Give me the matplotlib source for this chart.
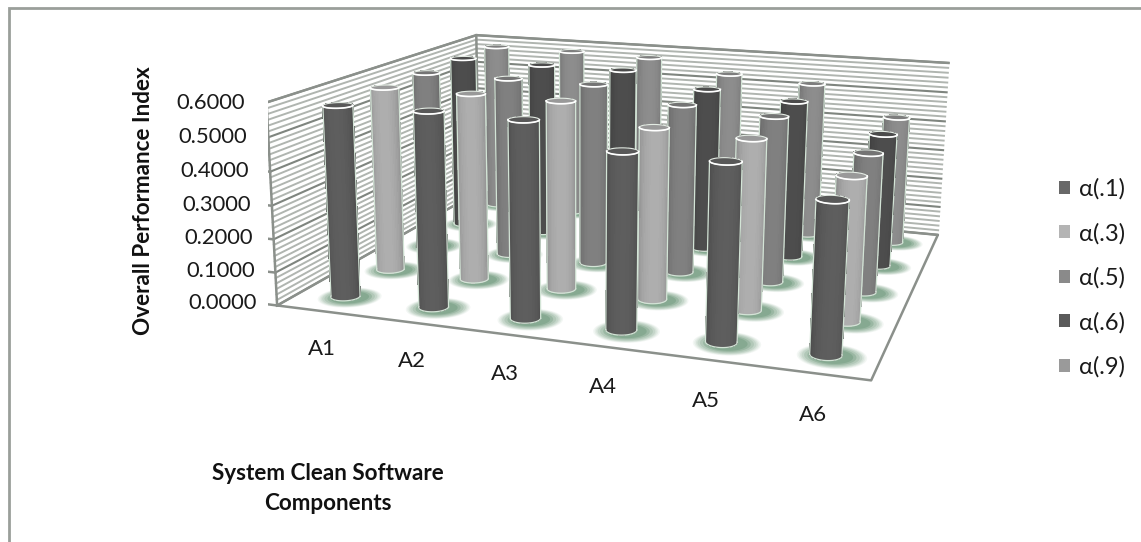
import numpy as np
import matplotlib
matplotlib.use('Agg')
import matplotlib.pyplot as plt
from matplotlib.patches import Patch, Rectangle
from mpl_toolkits.mplot3d import art3d, proj3d

plt.rcParams['font.family'] = ['Lato', 'DejaVu Sans']

WIDTH, HEIGHT = 1141, 542

components = ['A1', 'A2', 'A3', 'A4', 'A5', 'A6']
series_names = ['α(.1)', 'α(.3)', 'α(.5)', 'α(.6)', 'α(.9)']

# overall performance index, one list per alpha
alpha_1 = [0.576, 0.580, 0.576, 0.510, 0.506, 0.428]
alpha_3 = [0.580, 0.580, 0.578, 0.520, 0.510, 0.426]
alpha_5 = [0.580, 0.580, 0.580, 0.535, 0.520, 0.430]
alpha_6 = [0.585, 0.580, 0.580, 0.535, 0.515, 0.430]
alpha_9 = [0.585, 0.585, 0.580, 0.540, 0.525, 0.430]
all_series = [alpha_1, alpha_3, alpha_5, alpha_6, alpha_9]

z_ticks = [0.0, 0.1, 0.2, 0.3, 0.4, 0.5, 0.6]

body_colors = ['#5c5c5c', '#ababab', '#7e7e7e', '#4c4c4c', '#8a8a8a']
legend_colors = ['#686868', '#b4b4b4', '#8a8a8a', '#5a5a5a', '#9a9a9a']

ELEV, AZIM, ROLL = 13.7559, -71.9437, -0.5729
FOCAL = 0.3719
BOX = (1, 0.8212, 0.3471)
SIDE, CX, CY = 718.06, 627.14, 185.22
RADIUS = 0.025

fig = plt.figure(figsize=(WIDTH/100, HEIGHT/100), dpi=100)
ax = fig.add_subplot(projection='3d', computed_zorder=False)
ax.set_position([(CX-SIDE/2)/WIDTH, 1-(CY+SIDE/2)/HEIGHT, SIDE/WIDTH, SIDE/HEIGHT])
ax.view_init(ELEV, AZIM, ROLL)
ax.set_proj_type('persp', focal_length=FOCAL)
ax.set_box_aspect(BOX)
ax.set_axis_off()

nx, ny = len(components), len(series_names)
zmax = z_ticks[-1]
ax.set_xlim(0, nx)
ax.set_ylim(0, ny)
ax.set_zlim(0, zmax)

def flat_label(x, y, z, s, **kw):
    # label placed at a 3D point but kept as plain 2D text
    px, py, _ = proj3d.proj_transform(x, y, z, ax.get_proj())
    ax.text2D(px, py, s, transform=ax.transData, ha='center', va='center', color='#1a1a1a', **kw)

grey = '#8b908b'
# striped walls, every sixth stripe is a major gridline
for k, z in enumerate(np.arange(0, 37) * zmax / 36):
    major = k % 6 == 0
    col = '#7f857f' if major else '#b0b5b0'
    lw = 1.5 if major else 1.4
    ax.plot([0, 0], [0, ny], [z, z], color=col, lw=lw, zorder=1)
    ax.plot([0, nx], [ny, ny], [z, z], color=col, lw=lw, zorder=1)

# frame edges
for xs, ys, zs in [([0, nx, nx, 0, 0], [0, 0, ny, ny, 0], [0, 0, 0, 0, 0]),
                   ([0, 0], [0, 0], [0, zmax]),
                   ([0, 0, nx], [0, ny, ny], [zmax, zmax, zmax]),
                   ([0, 0], [ny, ny], [0, zmax])]:
    ax.plot(xs, ys, zs, color=grey, lw=1.8, zorder=2)

# tick marks and value labels
for z in z_ticks:
    ax.plot([0, -0.13], [0, 0], [z, z], color=grey, lw=1.8, zorder=2)
    flat_label(-0.64, 0, z - 0.014, '%.4f' % z, fontsize=15.8)

for i, name in enumerate(components):
    flat_label(1.05 + 0.924*i, -0.95, 0, name, fontsize=16)

view = np.deg2rad(AZIM)
angles = np.linspace(0, 2*np.pi, 49)
rx = RADIUS * nx / BOX[0]
ry = RADIUS * ny / BOX[1]

# soft green pools under each cylinder
pool_rings = [(2.15, 0.08), (2.05, 0.10), (1.95, 0.12), (1.85, 0.16), (1.7, 0.22), (1.5, 0.35), (1.3, 0.45)]
for j in range(ny):
    for i in range(nx):
        x0, y0 = i + 0.5, j + 0.5
        for scale, a in pool_rings:
            verts = np.column_stack([x0 + 0.06 + scale*rx*np.cos(angles),
                                     y0 - 0.02 + scale*ry*np.sin(angles),
                                     np.zeros_like(angles)])
            pool = art3d.Poly3DCollection([verts], facecolor='#6f9a7c', edgecolor='none',
                                          alpha=a, zorder=3)
            ax.add_collection3d(pool)

order = 10
for j in range(ny - 1, -1, -1):
    base = np.array(matplotlib.colors.to_rgb(body_colors[j]))
    for i in range(nx):
        x0, y0 = i + 0.5, j + 0.5
        h = all_series[j][i]
        X = np.array([x0 + rx*np.cos(angles)] * 2)
        Y = np.array([y0 + ry*np.sin(angles)] * 2)
        Z = np.array([np.zeros_like(angles), np.full_like(angles, h)])
        # lighter along the side facing the viewer
        light = 0.78 + 0.24*np.cos(angles - view)
        cols = np.clip(base[None, :] * light[:, None], 0, 1)
        ax.plot_surface(X, Y, Z, facecolors=np.array([cols, cols]), shade=False,
                        rstride=1, cstride=1, linewidth=0, antialiased=False, zorder=order)
        # pale outline down both sides and along the near foot
        for t in (view - np.pi/2, view + np.pi/2):
            xe, ye = x0 + rx*np.cos(t), y0 + ry*np.sin(t)
            ax.plot([xe, xe], [ye, ye], [0, h], color='#d3e4d6', lw=0.9, zorder=order + 0.1)
        near = np.linspace(view - np.pi/2, view + np.pi/2, 25)
        ax.plot(x0 + rx*np.cos(near), y0 + ry*np.sin(near), 0*near, color='#d3e4d6', lw=0.9,
                zorder=order + 0.1)
        # top cap with a white rim
        verts = np.column_stack([x0 + rx*np.cos(angles), y0 + ry*np.sin(angles),
                                 np.full_like(angles, h)])
        cap = art3d.Poly3DCollection([verts], facecolor=base*0.82 + 0.05, edgecolor='none',
                                     zorder=order + 0.2)
        ax.add_collection3d(cap)
        ax.plot(verts[:, 0], verts[:, 1], verts[:, 2], color='#e4ece4', lw=0.8, zorder=order + 0.3)
        ax.plot(x0 + rx*np.cos(near), y0 + ry*np.sin(near), np.full_like(near, h), color='white',
                lw=1.2, zorder=order + 0.3)
        order += 1

fig.text(143/WIDTH, 1-201/HEIGHT, 'Overall Performance Index', rotation=90, ha='center', va='center',
         fontsize=16.2, fontweight='bold', color='#111111')
fig.text(328/WIDTH, 1-474/HEIGHT, 'System Clean Software', ha='center', va='center',
         fontsize=16.2, fontweight='bold', color='#111111')
fig.text(328/WIDTH, 1-503/HEIGHT, 'Components', ha='center', va='center',
         fontsize=16.2, fontweight='bold', color='#111111')

handles = [Patch(facecolor=c, edgecolor='none') for c in legend_colors]
fig.legend(handles, series_names, loc='center left', bbox_to_anchor=(1038/WIDTH, 1-278/HEIGHT),
           frameon=False, fontsize=17, handlelength=0.47, handleheight=0.47, handletextpad=0.35,
           labelspacing=0.97, labelcolor='#1a1a1a')

# chart area border, open at the far edges
fig.add_artist(Rectangle((9/WIDTH, -0.1), 1.2, 1.1 - 8/HEIGHT, transform=fig.transFigure,
                         facecolor='none', edgecolor='#9a9f9a', lw=2))

fig.savefig('out.png', dpi=100)
